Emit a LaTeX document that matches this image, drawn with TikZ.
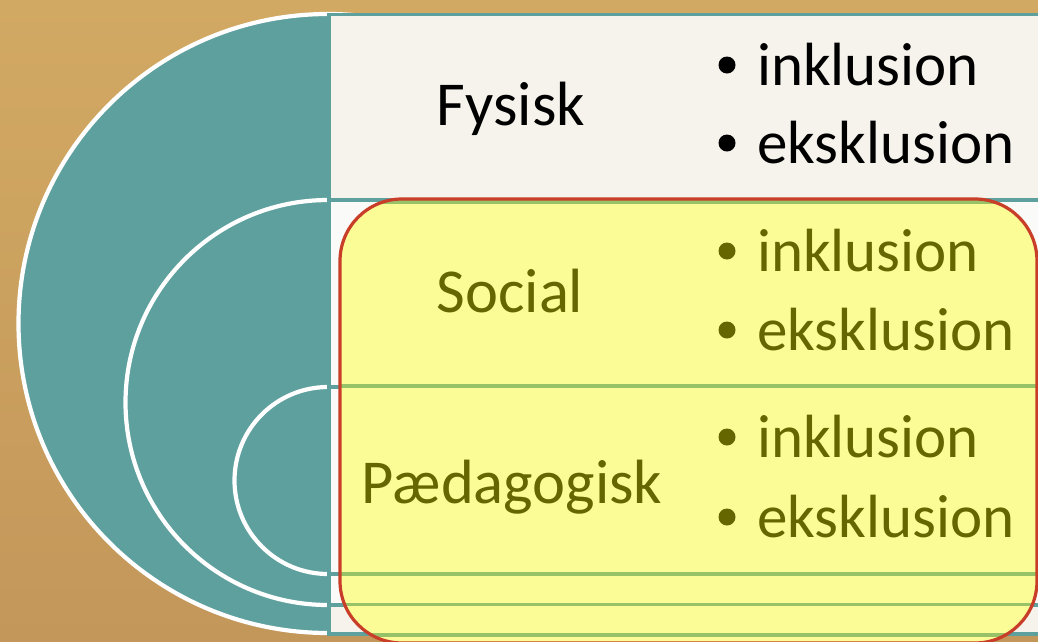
\documentclass[tikz,border=0pt]{standalone}
\usepackage{fontspec}
\setmainfont{Carlito}
\definecolor{bgtop}{RGB}{210,169,99}
\definecolor{bgbot}{RGB}{195,151,90}
\definecolor{tealc}{RGB}{94,160,158}
\definecolor{rowA}{RGB}{246,243,237}
\definecolor{rowB}{RGB}{250,250,248}
\definecolor{yelc}{RGB}{252,252,150}
\definecolor{redc}{RGB}{200,62,40}
\definecolor{greenc}{RGB}{152,194,104}
\definecolor{olive}{RGB}{102,102,0}
\tikzset{
  rowbox/.style={draw=tealc, line width=3.2pt},
  ring/.style={draw=white, line width=4.2pt},
  bigtxt/.style={font=\fontsize{62.5}{70}\selectfont, inner sep=0pt, anchor=base},
  itemtxt/.style={font=\fontsize{61}{70}\selectfont, inner sep=0pt, anchor=base west},
  dot/.style={circle, inner sep=0pt, minimum size=17pt},
  greenline/.style={draw=greenc, line width=3.6pt}
}
\begin{document}
\begin{tikzpicture}[x=1pt,y=1pt,yscale=-1]
\useasboundingbox (0,0) rectangle (1038,641);
\clip (0,0) rectangle (1038,641);
\shade[top color=bgtop, bottom color=bgbot] (0,0) rectangle (1038,641);
% nested circles (right halves hidden by the rows)
\draw[fill=tealc, draw=white, line width=4.2pt] (328,323.5) circle[radius=309.5];
\draw[ring] (328,402.5) circle[radius=202.5];
\draw[ring] (328,480.5) circle[radius=93.5];
% rows
\draw[rowbox, fill=rowA] (329,14.5) rectangle (1050,200);
\draw[rowbox, fill=rowB] (329,200) rectangle (1050,387);
\draw[rowbox, fill=rowB] (329,387) rectangle (1050,574);
\draw[rowbox, fill=rowB] (329,574) rectangle (1050,605);
\draw[rowbox, fill=rowA] (329,605) rectangle (1050,634);
% highlight box
\fill[yelc, rounded corners=62pt] (340,199) rectangle (1037,643);
\begin{scope}
\clip[rounded corners=62pt] (340,199) rectangle (1037,643);
\draw[greenline] (330,202) -- (1045,202);
\draw[greenline] (330,386) -- (1045,386);
\draw[greenline] (330,574) -- (1045,574);
\draw[greenline] (330,604.5) -- (1045,604.5);
\draw[greenline] (330,635) -- (1045,635);
\end{scope}
\draw[draw=redc, line width=3.2pt, rounded corners=62pt] (340,199) rectangle (1037,643);
% texts
\node[bigtxt] (fys) at (511,125) {Fysisk};
\node[bigtxt, text=olive] (soc) at (510,312) {Social};
\node[bigtxt, text=olive] (paed) at (512,503) {Pædagogisk};
\node[itemtxt] (i1) at (757,85) {inklusion};
\node[itemtxt] (e1) at (757,163) {eksklusion};
\node[itemtxt, text=olive] (i2) at (757,271) {inklusion};
\node[itemtxt, text=olive] (e2) at (757,350) {eksklusion};
\node[itemtxt, text=olive] (i3) at (757,457) {inklusion};
\node[itemtxt, text=olive] (e3) at (757,537) {eksklusion};
\node[dot, fill=black] (b1) at (727,65) {};
\node[dot, fill=black] (b2) at (727,143) {};
\node[dot, fill=olive] (b3) at (727,251) {};
\node[dot, fill=olive] (b4) at (727,330) {};
\node[dot, fill=olive] (b5) at (727,437) {};
\node[dot, fill=olive] (b6) at (727,517) {};
\end{tikzpicture}
\end{document}
